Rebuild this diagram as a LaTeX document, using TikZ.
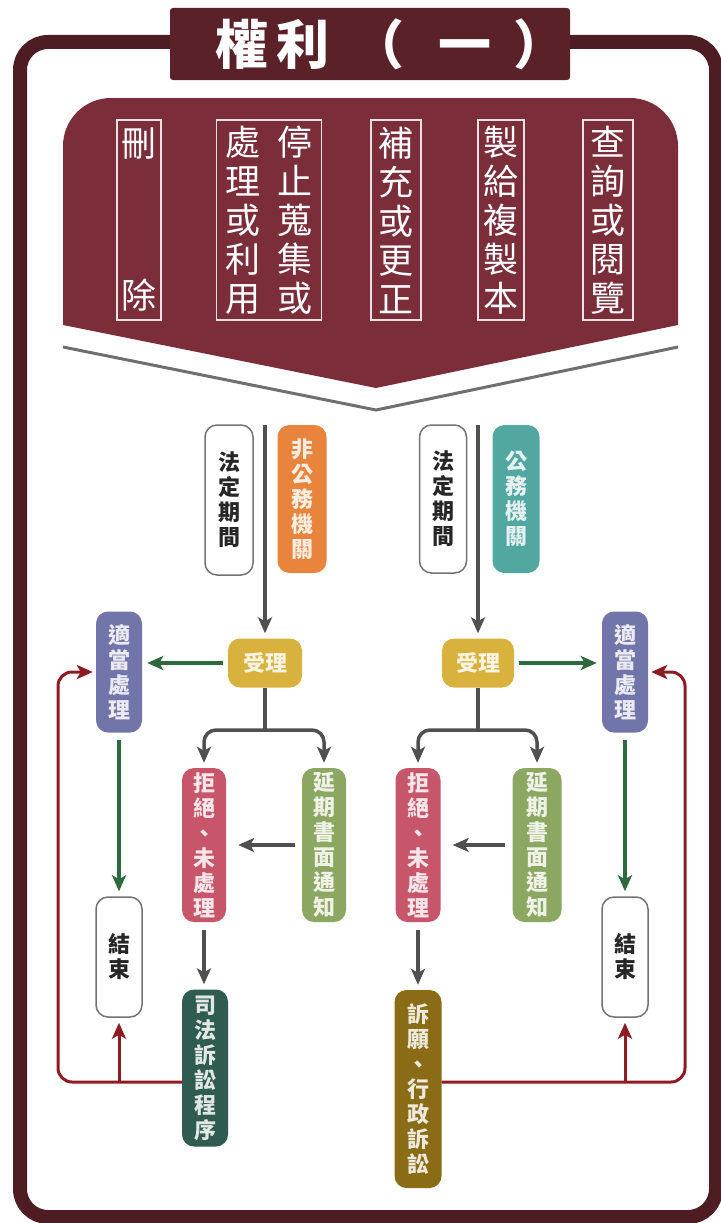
\documentclass[tikz,border=0pt]{standalone}
\usepackage{fontspec}
\setmainfont{Noto Sans CJK TC}
\usetikzlibrary{arrows.meta,calc}

\definecolor{framered}{HTML}{4E1C23}
\definecolor{titlered}{HTML}{5A2129}
\definecolor{bannerred}{HTML}{7B2E3A}
\definecolor{chevgray}{HTML}{6F6F6F}
\definecolor{flowgray}{HTML}{505050}
\definecolor{flowgreen}{HTML}{2E6A3E}
\definecolor{loopred}{HTML}{8E1B22}
\definecolor{orgorange}{HTML}{E8843C}
\definecolor{orgteal}{HTML}{52A8A0}
\definecolor{accyellow}{HTML}{D8B23C}
\definecolor{propblue}{HTML}{7275AA}
\definecolor{rejpink}{HTML}{C8566B}
\definecolor{extgreen}{HTML}{8BA761}
\definecolor{courtteal}{HTML}{2F5B50}
\definecolor{appealbrown}{HTML}{8A6C16}

\tikzset{
  pill/.style={rounded corners=12pt, minimum width=46pt, inner sep=0pt, align=center,
    font=\bfseries\fontsize{22}{25}\selectfont},
  colpill/.style={pill, fill=#1, text=#1!15!white},
  whitepill/.style={pill, draw=gray!90!black, line width=1.5pt, fill=white, text=black!85},
  tag/.style={draw=white!85!bannerred, line width=1.3pt, minimum width=48pt, minimum height=200pt,
    inner sep=0pt, align=center, text=white, font=\fontsize{35}{39}\selectfont},
  flow/.style={draw=flowgray, line width=3.5pt, -{Stealth[length=16pt,width=14pt,inset=4pt]}},
  okflow/.style={flow, draw=flowgreen},
  loopflow/.style={flow, draw=loopred, line width=3pt},
}

\begin{document}
\begin{tikzpicture}[x=1pt,y=-1pt]
  \useasboundingbox (0,0) rectangle (720,1223);
  \draw[framered, line width=14pt, rounded corners=28pt] (20,42) rectangle (716,1217);
  \node[fill=titlered, rounded corners=3pt, minimum width=400pt, minimum height=72pt, inner sep=0pt,
    text=white, font=\bfseries\fontsize{53}{53}\selectfont] (title) at (370,44)
    {\hspace{42pt}權\hspace{8pt}利\hspace{22pt}（\hspace{34pt}一\hspace{22pt}）\hspace{-25pt}};

  \fill[bannerred] (63,325) -- (63,146) arc[start angle=180, end angle=270, radius=48]
    -- (630,98) arc[start angle=270, end angle=360, radius=48] -- (678,325) -- (376,388) -- cycle;
  \draw[chevgray, line width=3pt] (63,347) -- (376,410) -- (678,347);

  \node[tag, minimum width=44pt] (t-delete) at (139,220) {刪\\[113pt]除};
  \node[tag, minimum width=105pt] (t-stop) at (269,220)
    {處\hspace{17pt}停\\理\hspace{17pt}止\\或\hspace{17pt}蒐\\利\hspace{17pt}集\\用\hspace{17pt}或};
  \node[tag, minimum width=50pt] (t-amend) at (396,220) {補\\充\\或\\更\\正};
  \node[tag, minimum width=46pt] (t-copy) at (501,220) {製\\給\\複\\製\\本};
  \node[tag, minimum width=50pt] (t-view) at (608,220) {查\\詢\\或\\閱\\覽};

  % non-government agencies
  \node[whitepill, minimum width=48pt, minimum height=150pt] (l-law) at (229,500) {法\\定\\期\\間};
  \node[colpill=orgorange, minimum width=49pt, minimum height=148pt] (l-org) at (302,499) {非\\公\\務\\機\\關};
  \node[colpill=accyellow, minimum width=74pt, minimum height=49pt] (l-acc) at (265,663) {受理};
  \node[colpill=propblue, minimum height=121pt] (l-proper) at (119,672) {適\\當\\處\\理};
  \node[colpill=rejpink, minimum width=44pt, minimum height=154pt] (l-rej) at (204,845) {拒\\絕\\、\\未\\處\\理};
  \node[colpill=extgreen, minimum width=44pt, minimum height=154pt] (l-ext) at (324,845) {延\\期\\書\\面\\通\\知};
  \node[whitepill, minimum height=120pt] (l-end) at (119,957) {結\\束};
  \node[colpill=courtteal, minimum height=157pt] (l-court) at (205,1068) {司\\法\\訴\\訟\\程\\序};

  % government agencies
  \node[whitepill, minimum width=47pt, minimum height=148pt] (r-law) at (443,499) {法\\定\\期\\間};
  \node[colpill=orgteal, minimum width=47pt, minimum height=148pt] (r-org) at (516,499) {公\\務\\機\\關};
  \node[colpill=accyellow, minimum width=72pt, minimum height=49pt] (r-acc) at (478,663) {受理};
  \node[colpill=propblue, minimum height=121pt] (r-proper) at (625,672) {適\\當\\處\\理};
  \node[colpill=rejpink, minimum width=45pt, minimum height=154pt] (r-rej) at (418,845) {拒\\絕\\、\\未\\處\\理};
  \node[colpill=extgreen, minimum width=49pt, minimum height=154pt] (r-ext) at (537,845) {延\\期\\書\\面\\通\\知};
  \node[whitepill, minimum height=120pt] (r-end) at (625,957) {結\\束};
  \node[colpill=appealbrown, minimum width=47pt, minimum height=198pt] (r-appeal) at (418,1089) {訴\\願\\、\\行\\政\\訴\\訟};

  \coordinate (l-top) at (265,425);
  \coordinate (r-top) at (478,425);
  \coordinate (l-fork) at (265,730);
  \coordinate (r-fork) at (478,730);
  \coordinate (l-loop) at (58,1082);
  \coordinate (r-loop) at (685,1082);

  \draw[flow, shorten >=5pt] (l-top) -- (l-acc.north);
  \draw[flow, shorten >=5pt] (r-top) -- (r-acc.north);
  \draw[okflow, shorten <=5pt, shorten >=5pt] (l-acc.west) -- (l-acc.west -| l-proper.east);
  \draw[okflow, shorten <=5pt, shorten >=5pt] (r-acc.east) -- (r-acc.east -| r-proper.west);
  \draw[flowgray, line width=3.5pt] (l-acc.south) -- (l-fork);
  \draw[flowgray, line width=3.5pt] (r-acc.south) -- (r-fork);
  \draw[flow, rounded corners=12pt, shorten >=5pt] (l-fork) -| (l-rej.north);
  \draw[flow, rounded corners=12pt, shorten >=5pt] (l-fork) -| (l-ext.north);
  \draw[flow, rounded corners=12pt, shorten >=5pt] (r-fork) -| (r-rej.north);
  \draw[flow, rounded corners=12pt, shorten >=5pt] (r-fork) -| (r-ext.north);
  \draw[flow, shorten <=7pt, shorten >=12pt] (l-ext.west) -- (l-rej.east);
  \draw[flow, shorten <=7pt, shorten >=12pt] (r-ext.west) -- (r-rej.east);
  \draw[flow, shorten <=8pt, shorten >=5pt] (l-rej.south) -- (l-rej.south |- l-court.north);
  \draw[flow, shorten <=8pt, shorten >=5pt] (r-rej.south) -- (r-rej.south |- r-appeal.north);
  \draw[okflow, shorten <=7pt, shorten >=5pt] (l-proper.south) -- (l-end.north);
  \draw[okflow, shorten <=7pt, shorten >=5pt] (r-proper.south) -- (r-end.north);

  \draw[loopflow, rounded corners=14pt, shorten >=3pt] (l-court.west |- l-loop) -- (l-loop)
    -- (l-loop |- l-proper.west) -- (l-proper.west);
  \draw[loopflow, rounded corners=14pt, shorten >=3pt] (r-appeal.east |- r-loop) -- (r-loop)
    -- (r-loop |- r-proper.east) -- (r-proper.east);
  \draw[loopflow, shorten >=5pt] (l-end.south |- l-loop) -- (l-end.south);
  \draw[loopflow, shorten >=5pt] (r-end.south |- r-loop) -- (r-end.south);
\end{tikzpicture}
\end{document}
